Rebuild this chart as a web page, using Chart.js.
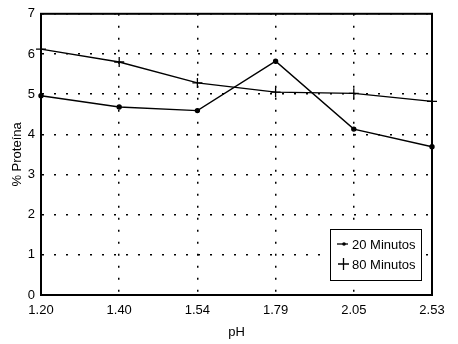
<!DOCTYPE html>
<html>
<head>
<meta charset="utf-8">
<script src="https://cdn.jsdelivr.net/npm/chart.js@4.4.0/dist/chart.umd.min.js"></script>
<style>
    html, body { margin: 0; padding: 0; background: #fff; }
    #box { width: 458px; height: 344px; position: relative; }
</style>
</head>
<body>
<div id="box"><canvas id="protein-chart"></canvas></div>
<script>
// valores
const phLabels = ['1.20', '1.40', '1.54', '1.79', '2.05', '2.53'];
const seriesNames = ['20 Minutos', '80 Minutos'];
const minutes20 = [4.96, 4.68, 4.59, 5.82, 4.13, 3.69];
const minutes80 = [6.12, 5.80, 5.28, 5.05, 5.02, 4.82];
const yTicks = [0, 1, 2, 3, 4, 5, 6, 7];

const fontFamily = '"Liberation Sans", Arial, Helvetica, sans-serif';

// marco completo + leyenda dentro del area
const framePlugin = {
    id: 'frame',
    afterDraw(chart) {
        const ctx = chart.ctx;
        const area = chart.chartArea;
        ctx.save();
        ctx.strokeStyle = '#000';
        ctx.lineWidth = 2;
        ctx.strokeRect(area.left, area.top, area.right - area.left, area.bottom - area.top);

        const w = 91, h = 51;
        const x = area.right - 11 - w, y = area.bottom - 15 - h;
        ctx.fillStyle = '#fff';
        ctx.fillRect(x, y, w, h);
        ctx.lineWidth = 1;
        ctx.strokeRect(x + 0.5, y + 0.5, w, h);

        ctx.font = '13px ' + fontFamily;
        ctx.fillStyle = '#000';
        ctx.textBaseline = 'middle';
        ctx.lineWidth = 1.3;
        // 20 Minutos
        let ly = y + 15;
        ctx.beginPath();
        ctx.moveTo(x + 7, ly);
        ctx.lineTo(x + 18, ly);
        ctx.stroke();
        ctx.beginPath();
        ctx.arc(x + 14, ly, 1.8, 0, Math.PI * 2);
        ctx.fill();
        ctx.fillText(chart.data.datasets[0].label, x + 22, ly + 1);
        // 80 Minutos
        ly = y + 35;
        ctx.beginPath();
        ctx.moveTo(x + 8, ly);
        ctx.lineTo(x + 19, ly);
        ctx.moveTo(x + 13.5, ly - 6);
        ctx.lineTo(x + 13.5, ly + 6);
        ctx.stroke();
        ctx.fillText(chart.data.datasets[1].label, x + 22, ly + 1);
        ctx.restore();
    }
};

function drawProteinChart() {
    const canvas = document.getElementById('protein-chart');
    const tickFont = {family: fontFamily, size: 13};

    new Chart(canvas, {
        type: 'line',
        data: {
            labels: phLabels,
            datasets: [
                {
                    label: seriesNames[0],
                    data: minutes20,
                    borderColor: '#000',
                    backgroundColor: '#000',
                    borderWidth: 1.4,
                    pointStyle: 'circle',
                    pointRadius: 2,
                    tension: 0
                },
                {
                    label: seriesNames[1],
                    data: minutes80,
                    borderColor: '#000',
                    backgroundColor: '#000',
                    borderWidth: 1.4,
                    pointStyle: 'cross',
                    pointRadius: 5,
                    pointBorderWidth: 1.3,
                    tension: 0
                }
            ]
        },
        options: {
            animation: false,
            responsive: true,
            maintainAspectRatio: false,
            layout: {
                padding: {top: 10, right: 26, left: 0, bottom: 0}
            },
            plugins: {
                legend: {display: false},
                tooltip: {enabled: false}
            },
            scales: {
                x: {
                    offset: false,
                    grid: {
                        color: '#000',
                        lineWidth: 1.5,
                        drawTicks: false
                    },
                    border: {display: true, color: '#000', width: 2, dash: [2, 10]},
                    ticks: {
                        color: '#000',
                        font: tickFont,
                        padding: 8,
                        maxRotation: 0
                    },
                    title: {
                        display: true,
                        text: 'pH',
                        color: '#000',
                        font: tickFont,
                        padding: {top: 6, bottom: 4}
                    },
                    afterFit(scale) {
                        scale.height = 49;
                    }
                },
                y: {
                    min: 0,
                    max: 7,
                    afterBuildTicks(scale) {
                        scale.ticks = yTicks.map((v) => ({value: v}));
                    },
                    grid: {
                        color: '#000',
                        lineWidth: 1.5,
                        drawTicks: false
                    },
                    border: {display: true, color: '#000', width: 2, dash: [2, 10]},
                    ticks: {
                        color: '#000',
                        font: tickFont,
                        padding: 6
                    },
                    title: {
                        display: true,
                        text: '% Proteína',
                        color: '#000',
                        font: tickFont,
                        padding: {top: 10, bottom: 0}
                    },
                    afterFit(scale) {
                        scale.width = 41;
                    }
                }
            }
        },
        plugins: [framePlugin]
    });
}

drawProteinChart();
</script>
</body>
</html>
